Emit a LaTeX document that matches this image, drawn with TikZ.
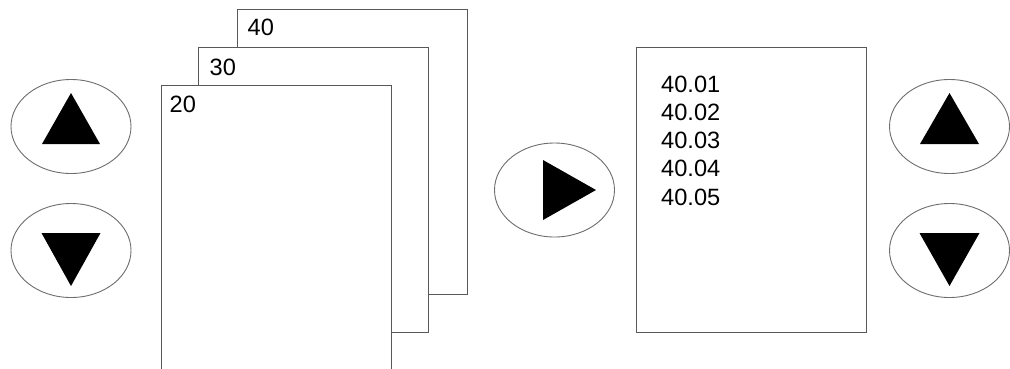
\documentclass[tikz,border=0pt]{standalone}
\usepackage{fontspec}
\setmainfont{Liberation Sans}
\usetikzlibrary{shapes.geometric,calc,positioning}
\definecolor{edgegray}{RGB}{88,88,88}
\definecolor{rimgray}{RGB}{110,110,110}

\tikzset{
  key/.style={ellipse, draw=rimgray, line width=0.9pt, minimum width=120pt, minimum height=94pt, inner sep=0pt},
  page/.style={rectangle, draw=edgegray, fill=white, line width=1pt, minimum width=230pt, minimum height=285pt, inner sep=0pt},
  digits/.style={font=\fontsize{23.6}{28}\selectfont, inner sep=0pt, anchor=base west},
}

\begin{document}
\begin{tikzpicture}[x=1pt,y=-1pt]
\clip (0,0) rectangle (1010,368);
\fill[white] (0,0) rectangle (1010,368);

% =========================
% Left keys: up / down
% =========================
\node[key] (upL) at (71,126.5) {};
\node[key] (dnL) at (71,250.5) {};
\fill[shift={(upL.center)}] (0,-33.5) -- (29,17.5) -- (-29,17.5) -- cycle;
\fill[shift={(dnL.center)}] (-29.5,-17.5) -- (29.5,-17.5) -- (0,35.5) -- cycle;

% =========================
% Stack of pages
% =========================
\node[page] (p40) at (352,151.5) {};
\node[page] (p30) at (313,189.5) {};
\node[page] (p20) at (276,227.5) {};

\node[digits] at ($(p40.north west)+(11,27)$) {40};
\node[digits] at ($(p30.north west)+(12,29)$) {30};
\node[digits] at ($(p20.north west)+(9,28)$) {20};

% =========================
% Open key
% =========================
\node[key] (go) at (554.5,190) {};
\fill[shift={(go.center)}] (-11.5,-30) -- (41.5,0) -- (-11.5,30) -- cycle;

% =========================
% Sub-entries of page 40
% =========================
\node[page] (list) at (751.5,190) {};
\foreach \i in {1,...,5}
  \node[digits] (e\i) at ($(list.north west)+(25,{45+28.25*(\i-1)})$) {40.0\i};

% =========================
% Right keys: up / down
% =========================
\node[key] (upR) at (949.5,126.5) {};
\node[key] (dnR) at (949.5,250.5) {};
\fill[shift={(upR.center)}] (0,-33.5) -- (29.5,17.5) -- (-29.5,17.5) -- cycle;
\fill[shift={(dnR.center)}] (-30,-17.5) -- (30,-17.5) -- (0,35.5) -- cycle;

\end{tikzpicture}
\end{document}
